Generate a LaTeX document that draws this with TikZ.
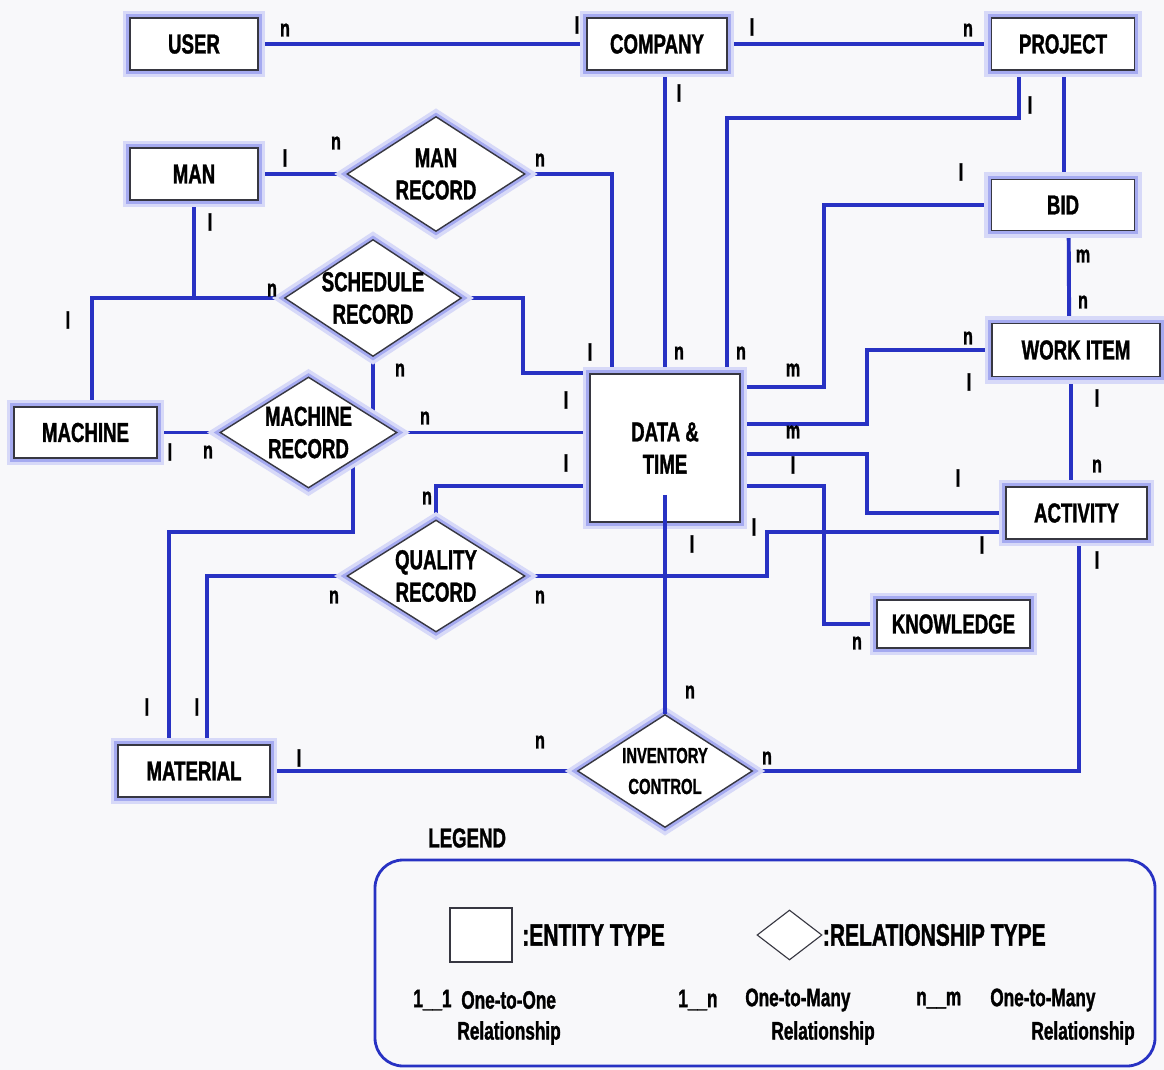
\documentclass[tikz,border=0pt]{standalone}
\usepackage{fontspec}
\setmainfont{Liberation Sans}[FakeStretch=0.68, BoldFeatures={FakeBold=1.2}]
\usetikzlibrary{shapes.geometric,calc,backgrounds}
\definecolor{lnblue}{RGB}{40,50,195}
\definecolor{glow}{RGB}{165,170,240}
\definecolor{bg}{RGB}{248,248,250}
\definecolor{bordr}{RGB}{55,55,65}
\begin{document}
\begin{tikzpicture}[x=0.025cm,y=-0.025cm,
  every node/.style={font=\bfseries\fontsize{19.5}{23}\selectfont, text=black},
  glowing/.style={preaction={draw=glow!45, line width=10pt},
    preaction={draw=glow, line width=5pt}},
  ent/.style n args={2}{draw=bordr, line width=1.2pt, fill=white,
    minimum width=#1*0.025cm, minimum height=#2*0.025cm, inner sep=0pt,
    align=center, glowing},
  rel/.style n args={2}{diamond, draw=bordr, line width=1pt, fill=white,
    minimum width=#1*0.025cm, minimum height=#2*0.025cm, inner sep=0pt,
    glowing},
  conn/.style={draw=lnblue, line width=2.8pt},
  card/.style={font=\bfseries\fontsize{17}{19}\selectfont, inner sep=0pt},
  legbig/.style={font=\bfseries\fontsize{22}{24}\selectfont, inner sep=0pt},
  legtxt/.style={font=\bfseries\fontsize{18}{20}\selectfont, inner sep=0pt},
]
\useasboundingbox (0,0) rectangle (1164,1070);

% entities
\node[ent={128}{52}] (user) at (194,44) {USER};
\node[ent={140}{52}] (comp) at (657,44) {COMPANY};
\node[ent={143}{52}] (proj) at (1063,44) {PROJECT};
\node[ent={128}{52}] (man) at (194,174) {MAN};
\node[ent={143}{51}] (bid) at (1063,205) {BID};
\node[ent={168}{53}] (wi) at (1076,350) {WORK ITEM};
\node[ent={143}{51}] (mach) at (85.5,432.5) {MACHINE};
\node[ent={150}{148}] (dt) at (665,448) {DATA \&\\TIME};
\node[ent={141}{52}] (act) at (1076.5,513) {ACTIVITY};
\node[ent={153}{48}] (know) at (953.5,624) {KNOWLEDGE};
\node[ent={152}{52}] (mat) at (194,771) {MATERIAL};

% relationships
\node[rel={178}{115}, label={[align=center]center:{MAN\\RECORD}}] (mr) at (436,174) {};
\node[rel={177}{117}, label={[align=center]center:{SCHEDULE\\RECORD}}] (sr) at (373,298) {};
\node[rel={177}{111}, label={[align=center]center:{MACHINE\\RECORD}}] (mcr) at (308.5,432.5) {};
\node[rel={178}{112}, label={[align=center]center:{QUALITY\\RECORD}}] (qr) at (436,576) {};
\node[rel={175}{113}, label={[align=center,font=\bfseries\fontsize{15.5}{22}\selectfont]center:{INVENTORY\\CONTROL}}] (inv) at (665,771) {};

% connectors
\begin{scope}[on background layer]
\fill[bg] (0,0) rectangle (1164,1070);
\draw[conn] (user.east) -- (comp.west);
\draw[conn] (comp.east) -- (proj.west);
\draw[conn] (dt.north) -- (dt.north |- comp.south);
\draw[conn] ($(proj.south west)+(28,0)$) -- ++(0,47) -| ($(dt.north west)+(138,0)$);
\draw[conn] ($(proj.south west)+(73,0)$) -- ($(bid.north west)+(73,0)$);
\draw[conn] (bid.west) -| ($(dt.north east)+(83,14)$) -- ($(dt.north east)+(0,14)$);
\draw[conn] ($(bid.south west)+(78,0)$) -- ($(wi.north west)+(78,0)$);
\draw[conn] (wi.west) -| ($(dt.north east)+(126,51)$) -- ($(dt.north east)+(0,51)$);
\draw[conn] ($(wi.south west)+(80,0)$) -- ($(act.north west)+(66,0)$);
\draw[conn] (act.west) -| ($(dt.north east)+(126,81)$) -- ($(dt.north east)+(0,81)$);
\draw[conn] ($(dt.north east)+(0,113)$) -- ++(83,0) |- (know.west);
\draw[conn] ($(act.south west)+(0,-8)$) -- ++(-238,0) |- (qr.east);
\draw[conn] ($(act.south west)+(74,0)$) |- (inv.east);
\draw[conn] (mat.east) -- (inv.west);
\draw[conn] (qr.north) |- ($(dt.north west)+(0,113)$);
\draw[conn] (qr.west) -| ($(mat.north west)+(90,0)$);
\draw[conn] (mcr.south east) |- ($(mat.north west)+(52,-212)$) -- ($(mat.north west)+(52,0)$);
\draw[conn] (mach.east) -- (mcr.west);
\draw[conn] (mcr.east) -- (dt.west |- mcr.east);
\draw[conn] (sr.south) -- (sr.south |- mcr.center);
\draw[conn] (sr.east) -- ++(61,0) |- (dt.north west);
\draw[conn] (mr.east) -| ($(dt.north west)+(23,0)$);
\draw[conn] (man.east) -- (mr.west);
\draw[conn] (man.south) -- (man.south |- sr.west);
\draw[conn] (sr.west) -| ($(mach.north west)+(79,0)$);
\end{scope}
\draw[conn] ($(dt.south)+(0,-28)$) -- (inv.north);

% cardinalities
\node[card] (c1) at (285,30) {n};
\node[card] (c2) at (577,25) {l};
\node[card] (c3) at (752,27) {l};
\node[card] (c4) at (968,30) {n};
\node[card] (c5) at (679,93) {l};
\node[card] (c6) at (1030,105) {l};
\node[card] (c7) at (285,158) {l};
\node[card] (c8) at (336,143) {n};
\node[card] (c9) at (540,160) {n};
\node[card] (c10) at (210,222) {l};
\node[card] (c11) at (961,172) {l};
\node[card] (c12) at (1083,256) {m};
\node[card] (c13) at (1083,302) {n};
\node[card] (c14) at (272,290) {n};
\node[card] (c15) at (68,320) {l};
\node[card] (c16) at (590,352) {l};
\node[card] (c17) at (679,353) {n};
\node[card] (c18) at (741,353) {n};
\node[card] (c19) at (793,370) {m};
\node[card] (c20) at (968,338) {n};
\node[card] (c21) at (969,382) {l};
\node[card] (c22) at (1097,398) {l};
\node[card] (c23) at (400,370) {n};
\node[card] (c24) at (566,400) {l};
\node[card] (c25) at (425,418) {n};
\node[card] (c26) at (793,432) {m};
\node[card] (c27) at (170,452) {l};
\node[card] (c28) at (208,452) {n};
\node[card] (c29) at (566,463) {l};
\node[card] (c30) at (793,465) {l};
\node[card] (c31) at (958,478) {l};
\node[card] (c32) at (1097,466) {n};
\node[card] (c33) at (427,498) {n};
\node[card] (c34) at (754,527) {l};
\node[card] (c35) at (692,544) {l};
\node[card] (c36) at (982,545) {l};
\node[card] (c37) at (1097,560) {l};
\node[card] (c38) at (334,597) {n};
\node[card] (c39) at (540,597) {n};
\node[card] (c40) at (857,643) {n};
\node[card] (c41) at (690,692) {n};
\node[card] (c42) at (147,707) {l};
\node[card] (c43) at (197,707) {l};
\node[card] (c44) at (299,758) {l};
\node[card] (c45) at (540,742) {n};
\node[card] (c46) at (767,758) {n};

% legend
\node[anchor=west, inner sep=0pt] (legt) at (428,838) {LEGEND};
\node[draw=lnblue, line width=2pt, rounded corners=0.7cm,
  minimum width=780*0.025cm, minimum height=206*0.025cm] (legbox) at (765,963) {};
\node[draw=bordr, line width=1pt, fill=white,
  minimum width=62*0.025cm, minimum height=54*0.025cm] (legent) at (481,935) {};
\node[legbig, anchor=west] (legentt) at (522,935) {:ENTITY TYPE};
\node[diamond, draw=bordr, line width=0.8pt, fill=white, inner sep=0pt,
  minimum width=65*0.025cm, minimum height=50*0.025cm] (legrel) at (789.5,935) {};
\node[legbig, anchor=west] (legrelt) at (legrel.east) {:RELATIONSHIP TYPE};
\node[legtxt, anchor=west] (l11) at (413,1000) {1\_\_1};
\node[legtxt, anchor=west] (l11a) at (461,1000) {One-to-One};
\node[legtxt, anchor=east] (l11b) at (561,1033) {Relationship};
\node[legtxt, anchor=west] (l1n) at (678,1000) {1\_\_n};
\node[legtxt, anchor=west] (l1na) at (745,1000) {One-to-Many};
\node[legtxt, anchor=east] (l1nb) at (875,1033) {Relationship};
\node[legtxt, anchor=west] (lnm) at (916,1000) {n\_\_m};
\node[legtxt, anchor=west] (lnma) at (990,1000) {One-to-Many};
\node[legtxt, anchor=east] (lnmb) at (1135,1033) {Relationship};
\end{tikzpicture}
\end{document}
